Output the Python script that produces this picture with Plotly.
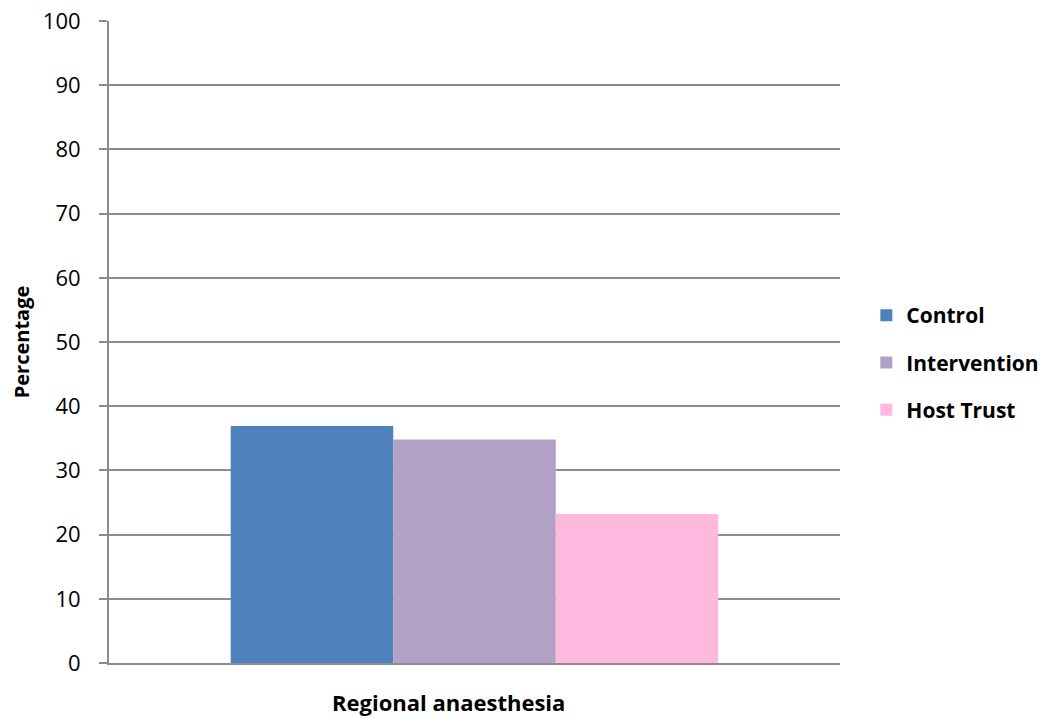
import plotly.graph_objects as go

categories = ["Regional anaesthesia"]
series_names = ["Control", "Intervention", "Host Trust"]
control = [36.9]
intervention = [34.8]
host_trust = [23.2]
y_ticks = [0, 10, 20, 30, 40, 50, 60, 70, 80, 90, 100]

colors = ["#4F81BD", "#B2A1C7", "#FFB9DE"]
values = [control, intervention, host_trust]

FONT = "Open Sans, Noto Sans, Liberation Sans, sans-serif"
GRID = "#8C8C8C"

fig = go.Figure()
for i, (name, vals, col) in enumerate(zip(series_names, values, colors)):
    fig.add_trace(go.Bar(
        x=categories, y=vals, name=name,
        marker=dict(color=col, line=dict(width=0)),
        legendgroup=f"g{i}",
    ))

fig.update_layout(
    width=1050, height=718,
    margin=dict(l=109, r=210, t=21, b=55, autoexpand=False),
    paper_bgcolor="white", plot_bgcolor="white",
    barmode="group", bargap=0.333, bargroupgap=0,
    font=dict(family=FONT, color="black", size=20),
    showlegend=True,
    legend=dict(
        x=1.036, xanchor="left", y=0.468, yanchor="middle",
        font=dict(family=FONT, size=21, color="black", weight="bold"),
        traceorder="grouped", tracegroupgap=17,
        bgcolor="rgba(0,0,0,0)",
    ),
    xaxis=dict(
        showticklabels=False, ticks="", automargin=False,
        showline=True, linecolor=GRID, linewidth=2,
        showgrid=False, zeroline=False,
    ),
    yaxis=dict(
        range=[0, 100], tickvals=y_ticks, automargin=False,
        ticks="outside", ticklen=8, tickcolor=GRID, tickwidth=2,
        ticklabelstandoff=14,
        showline=True, linecolor=GRID, linewidth=2,
        showgrid=True, gridcolor=GRID, gridwidth=2,
        zeroline=False,
        tickfont=dict(family=FONT, size=22, color="black"),
        title=dict(text="Percentage", standoff=8,
                   font=dict(family=FONT, size=20, color="black", weight="bold")),
    ),
)

fig.add_annotation(
    text="Regional anaesthesia", xref="paper", yref="paper",
    x=0.465, y=-0.061, xanchor="center", yanchor="middle", showarrow=False,
    font=dict(family=FONT, size=22, color="black", weight="bold"),
)

fig.write_html("out.html")
